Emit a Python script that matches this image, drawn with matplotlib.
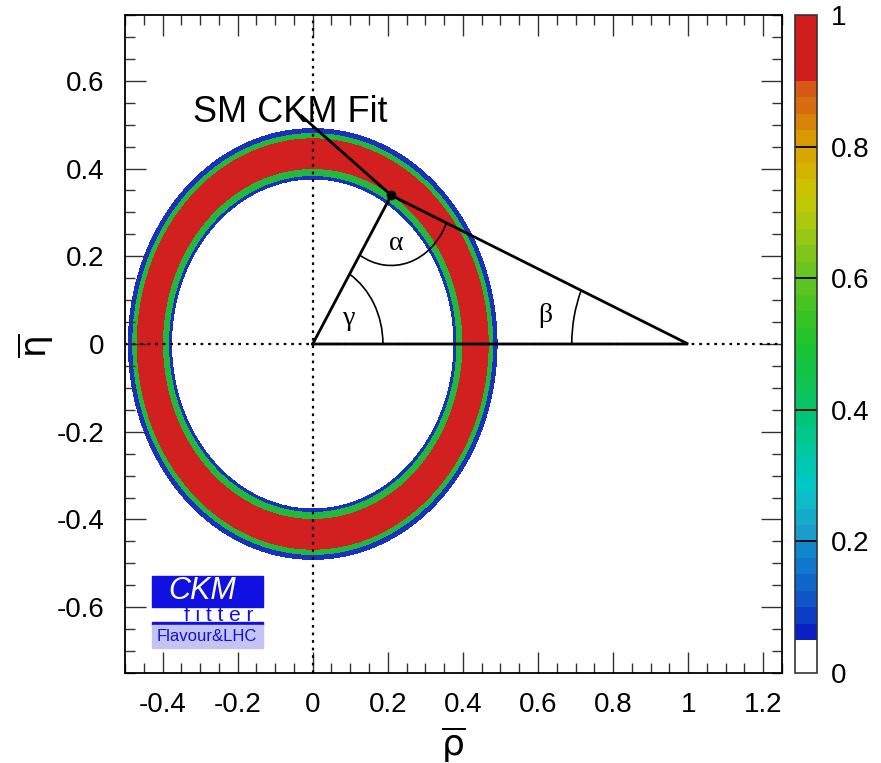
import numpy as np
import matplotlib
matplotlib.use('Agg')
import matplotlib.pyplot as plt
from matplotlib.colors import ListedColormap, Normalize
from matplotlib.patches import Rectangle, Arc
import matplotlib.cm as cm

plt.rcParams['font.family'] = ['Liberation Sans', 'DejaVu Sans']
plt.rcParams['axes.unicode_minus'] = False
plt.rcParams['mathtext.fontset'] = 'dejavusans'

# ---------------- data ----------------
x_ticks = [-0.4, -0.2, 0.0, 0.2, 0.4, 0.6, 0.8, 1.0, 1.2]
x_tick_labels = ['-0.4', '-0.2', '0', '0.2', '0.4', '0.6', '0.8', '1', '1.2']
y_ticks = [-0.6, -0.4, -0.2, 0.0, 0.2, 0.4, 0.6]
y_tick_labels = ['-0.6', '-0.4', '-0.2', '0', '0.2', '0.4', '0.6']
cbar_ticks = [0.0, 0.2, 0.4, 0.6, 0.8, 1.0]
cbar_tick_labels = ['0', '0.2', '0.4', '0.6', '0.8', '1']

# R_u ring: band boundaries (radius in (rho, eta) plane) and their colours
ring_radii = [0.376, 0.384, 0.400, 0.470, 0.482, 0.491]
ring_colors = ['#1a30c0', '#22b83c', '#d21f1f', '#22b83c', '#1a30c0']

# unitarity triangle vertices: origin, (1,0), apex
tri_rho = [0.0, 1.0, 0.209]
tri_eta = [0.0, 0.0, 0.339]

# "SM CKM Fit" pointer start
pointer_start = (-0.03, 0.52)

# angle arc radii
r_gamma, r_alpha, r_beta = 0.187, 0.16, 0.31

# colour palette of the 1-CL scale (40 bins of 0.025)
cb_colors = (['#ffffff'] * 2 +
             ['#0a1fc4', '#0d3cc6', '#1054c8', '#1066c8', '#1078cc', '#1288cc'] +
             ['#1a9ccc', '#14acc8', '#0cbcc8', '#00c8c4', '#00c8b4', '#00c8a0', '#00c88c', '#00c478'] +
             ['#08c464', '#10c454', '#12c444', '#18c436', '#24c42a', '#34c424', '#48c422', '#5cc420'] +
             ['#6cc41e', '#80c61a', '#96c814', '#aec80e', '#c0c808', '#ccc200', '#d4b400', '#d8a800'] +
             ['#d89a00', '#d88408', '#d86c10', '#d85818'] +
             ['#d01c1c'] * 4)

# ---------------- figure ----------------
W, H = 881, 763
fig = plt.figure(figsize=(W / 100, H / 100), dpi=100)
ax_l, ax_r, ax_t, ax_b = 125, 782, 15, 673
ax = fig.add_axes([ax_l / W, 1 - ax_b / H, (ax_r - ax_l) / W, (ax_b - ax_t) / H])
cax = fig.add_axes([795 / W, 1 - ax_b / H, 22 / W, (ax_b - ax_t) / H])

xmin, xmax, ymin, ymax = -0.5, 1.25, -0.75, 0.75

# ring
gx = np.linspace(xmin, xmax, 900)
gy = np.linspace(ymin, ymax, 900)
GX, GY = np.meshgrid(gx, gy)
R = np.hypot(GX, GY)
ax.contourf(GX, GY, R, levels=ring_radii, colors=ring_colors, zorder=1)

# dotted axes lines
ax.axvline(0, color='black', ls=(0, (1.2, 2.2)), lw=1.6, zorder=3)
ax.axhline(0, color='black', ls=(0, (1.2, 2.2)), lw=1.6, zorder=3)

# triangle
ax.plot([tri_rho[0], tri_rho[1], tri_rho[2], tri_rho[0]],
        [tri_eta[0], tri_eta[1], tri_eta[2], tri_eta[0]],
        color='black', lw=2.0, zorder=4, solid_joinstyle='miter')
ax.plot([pointer_start[0], tri_rho[2]], [pointer_start[1], tri_eta[2]],
        color='black', lw=2.0, zorder=4)
ax.plot([tri_rho[2]], [tri_eta[2]], 'o', color='black', ms=6, zorder=5)

# angle arcs
ang_g = np.degrees(np.arctan2(tri_eta[2], tri_rho[2]))
ang_b = np.degrees(np.arctan2(tri_eta[2], tri_rho[1] - tri_rho[2]))
ax.add_patch(Arc((0, 0), 2 * r_gamma, 2 * r_gamma, theta1=0, theta2=ang_g, lw=1.2, color='black', zorder=4))
ax.add_patch(Arc((tri_rho[2], tri_eta[2]), 2 * r_alpha, 2 * r_alpha,
                 theta1=180 + ang_g, theta2=360 - ang_b, lw=1.2, color='black', zorder=4))
ax.add_patch(Arc((1, 0), 2 * r_beta, 2 * r_beta, theta1=180 - ang_b, theta2=180, lw=1.2, color='black', zorder=4))

greek = dict(fontfamily='Liberation Serif', fontsize=20, ha='center', va='center', zorder=6)
ax.text(0.222, 0.23, 'α', **greek)
ax.text(0.098, 0.057, 'γ', **greek)
ax.text(0.62, 0.065, 'β', **greek)

ax.text(-0.06, 0.505, 'SM CKM Fit', fontsize=26, ha='center', va='baseline', zorder=6)

# axes formatting
ax.set_xlim(xmin, xmax)
ax.set_ylim(ymin, ymax)
ax.set_xticks(x_ticks)
ax.set_xticklabels(x_tick_labels)
ax.set_yticks(y_ticks)
ax.set_yticklabels(y_tick_labels)
ax.set_xticks(np.arange(-0.5, 1.2501, 0.05), minor=True)
ax.set_yticks(np.arange(-0.75, 0.7501, 0.05), minor=True)
ax.tick_params(which='both', direction='in', top=True, right=True, labelsize=20, color='#333333')
ax.tick_params(which='major', length=15, width=1.0)
ax.tick_params(which='minor', length=7, width=1.0)
ax.tick_params(axis='x', pad=14)
ax.tick_params(axis='y', pad=15)
for s in ax.spines.values():
    s.set_linewidth(1.3)
ax.set_xlabel(r'$\overline{\mathrm{\rho}}$', fontsize=26, labelpad=4)
fig.text(36 / W, 1 - 346 / H, r'$\overline{\mathrm{\eta}}$', fontsize=26, rotation=90,
         ha='center', va='center')

# logo (axes coordinates)
tA = ax.transAxes
lx0, lx1 = 0.041, 0.2105
ax.add_patch(Rectangle((lx0, 0.101), lx1 - lx0, 0.046, transform=tA, color='#1010e0', zorder=7, clip_on=False))
ax.add_patch(Rectangle((lx0, 0.073), lx1 - lx0, 0.005, transform=tA, color='#1010e0', zorder=7, clip_on=False))
ax.add_patch(Rectangle((lx0, 0.038), lx1 - lx0, 0.035, transform=tA, color='#c4c4f2', zorder=7, clip_on=False))
ax.text(0.117, 0.124, 'CKM', transform=tA, color='white', fontsize=22, style='italic',
        ha='center', va='center', zorder=8)
ax.text(0.143, 0.088, 'f i t t e r', transform=tA, color='#1010e0', fontsize=15,
        ha='center', va='center', zorder=8)
ax.text(0.125, 0.055, 'Flavour&LHC', transform=tA, color='#1010e0', fontsize=12,
        ha='center', va='center', zorder=8)

# colour bar
cmap = ListedColormap(cb_colors)
sm = cm.ScalarMappable(norm=Normalize(0, 1), cmap=cmap)
cb = fig.colorbar(sm, cax=cax, ticks=cbar_ticks)
cb.ax.set_yticklabels(cbar_tick_labels)
cb.ax.tick_params(length=0, labelsize=20, pad=10)
for t in cbar_ticks[1:-1]:
    cax.axhline(t, color='black', lw=1.3)
cb.outline.set_linewidth(1.2)
cb.outline.set_edgecolor('#333333')

fig.savefig('out.png', dpi=100)
